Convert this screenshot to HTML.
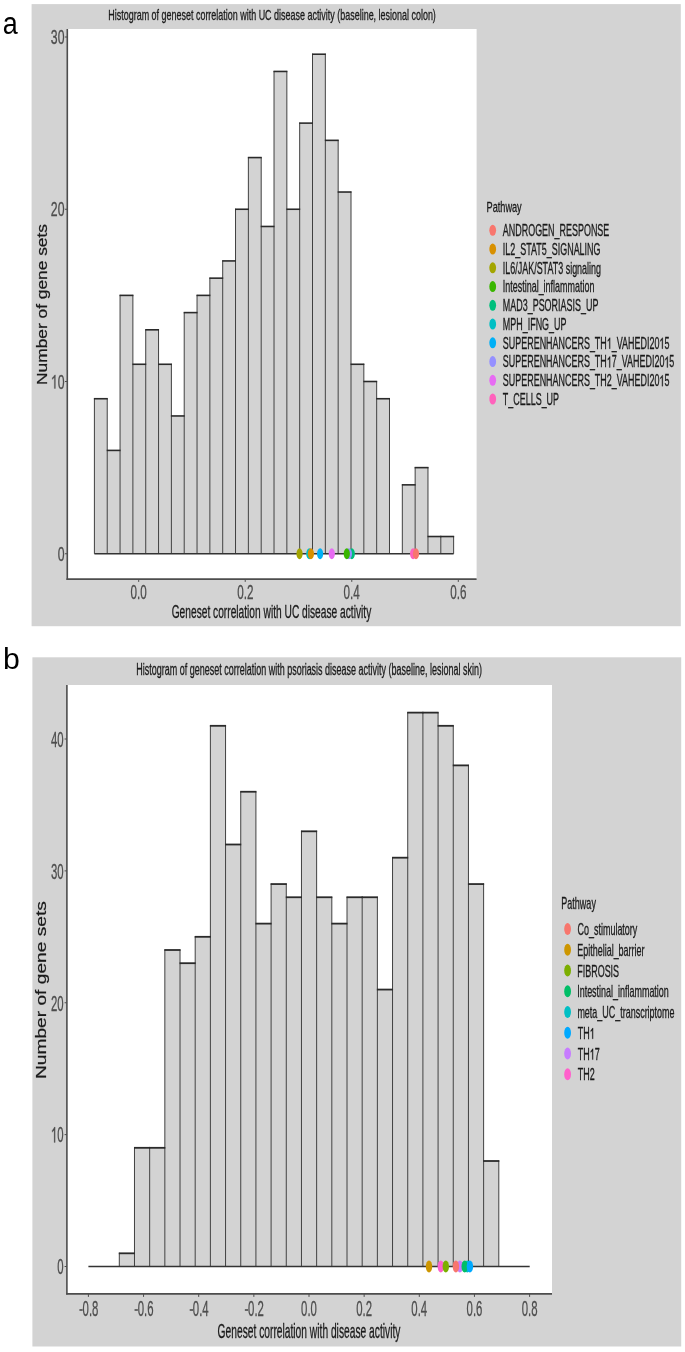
<!DOCTYPE html>
<html><head><meta charset="utf-8"><style>
html,body{margin:0;padding:0;background:#fff;}
body{width:685px;height:1352px;overflow:hidden;}
svg{display:block;will-change:transform;}
text{font-family:"Liberation Sans", sans-serif;stroke:currentColor;stroke-width:0.25px;vector-effect:non-scaling-stroke;}
</style></head><body>
<svg width="685" height="1352" viewBox="0 0 685 1352">
<rect x="31.60" y="4.10" width="649.20" height="622.10" fill="#d3d3d3"/>
<rect x="67.50" y="29.00" width="409.10" height="550.00" fill="#ffffff"/>
<text transform="translate(2.85,33.60) scale(0.8700,1)" font-size="31.00" fill="#000" color="#000" style="stroke:none">a</text>
<text transform="translate(108.31,19.50) scale(0.5896,1)" font-size="15.20" fill="#1a1a1a" color="#1a1a1a">Histogram of geneset correlation with UC disease activity (baseline, lesional colon)</text>
<rect x="94.40" y="398.73" width="12.83" height="155.03" fill="#d3d3d3"/>
<rect x="107.23" y="450.40" width="12.83" height="103.35" fill="#d3d3d3"/>
<rect x="120.06" y="295.38" width="12.83" height="258.38" fill="#d3d3d3"/>
<rect x="132.89" y="364.27" width="12.83" height="189.48" fill="#d3d3d3"/>
<rect x="145.72" y="329.82" width="12.83" height="223.93" fill="#d3d3d3"/>
<rect x="158.55" y="364.27" width="12.83" height="189.48" fill="#d3d3d3"/>
<rect x="171.38" y="415.95" width="12.83" height="137.80" fill="#d3d3d3"/>
<rect x="184.21" y="312.60" width="12.83" height="241.15" fill="#d3d3d3"/>
<rect x="197.04" y="295.38" width="12.83" height="258.38" fill="#d3d3d3"/>
<rect x="209.87" y="278.15" width="12.83" height="275.60" fill="#d3d3d3"/>
<rect x="222.70" y="260.92" width="12.83" height="292.83" fill="#d3d3d3"/>
<rect x="235.53" y="209.25" width="12.83" height="344.50" fill="#d3d3d3"/>
<rect x="248.36" y="157.57" width="12.83" height="396.18" fill="#d3d3d3"/>
<rect x="261.19" y="226.47" width="12.83" height="327.28" fill="#d3d3d3"/>
<rect x="274.02" y="71.45" width="12.83" height="482.30" fill="#d3d3d3"/>
<rect x="286.85" y="209.25" width="12.83" height="344.50" fill="#d3d3d3"/>
<rect x="299.68" y="123.12" width="12.83" height="430.63" fill="#d3d3d3"/>
<rect x="312.51" y="54.22" width="12.83" height="499.53" fill="#d3d3d3"/>
<rect x="325.34" y="140.35" width="12.83" height="413.40" fill="#d3d3d3"/>
<rect x="338.17" y="192.02" width="12.83" height="361.73" fill="#d3d3d3"/>
<rect x="351.00" y="364.27" width="12.83" height="189.48" fill="#d3d3d3"/>
<rect x="363.83" y="381.50" width="12.83" height="172.25" fill="#d3d3d3"/>
<rect x="376.66" y="398.73" width="12.83" height="155.03" fill="#d3d3d3"/>
<rect x="402.32" y="484.85" width="12.83" height="68.90" fill="#d3d3d3"/>
<rect x="415.15" y="467.62" width="12.83" height="86.12" fill="#d3d3d3"/>
<rect x="427.98" y="536.52" width="12.83" height="17.23" fill="#d3d3d3"/>
<rect x="440.81" y="536.52" width="12.83" height="17.23" fill="#d3d3d3"/>
<line x1="94.40" y1="553.75" x2="94.40" y2="398.23" stroke="#404040" stroke-width="1.0" stroke-linecap="butt"/>
<line x1="107.23" y1="553.75" x2="107.23" y2="398.23" stroke="#404040" stroke-width="1.0" stroke-linecap="butt"/>
<line x1="120.06" y1="553.75" x2="120.06" y2="294.88" stroke="#404040" stroke-width="1.0" stroke-linecap="butt"/>
<line x1="132.89" y1="553.75" x2="132.89" y2="294.88" stroke="#404040" stroke-width="1.0" stroke-linecap="butt"/>
<line x1="145.72" y1="553.75" x2="145.72" y2="329.32" stroke="#404040" stroke-width="1.0" stroke-linecap="butt"/>
<line x1="158.55" y1="553.75" x2="158.55" y2="329.32" stroke="#404040" stroke-width="1.0" stroke-linecap="butt"/>
<line x1="171.38" y1="553.75" x2="171.38" y2="363.77" stroke="#404040" stroke-width="1.0" stroke-linecap="butt"/>
<line x1="184.21" y1="553.75" x2="184.21" y2="312.10" stroke="#404040" stroke-width="1.0" stroke-linecap="butt"/>
<line x1="197.04" y1="553.75" x2="197.04" y2="294.88" stroke="#404040" stroke-width="1.0" stroke-linecap="butt"/>
<line x1="209.87" y1="553.75" x2="209.87" y2="277.65" stroke="#404040" stroke-width="1.0" stroke-linecap="butt"/>
<line x1="222.70" y1="553.75" x2="222.70" y2="260.42" stroke="#404040" stroke-width="1.0" stroke-linecap="butt"/>
<line x1="235.53" y1="553.75" x2="235.53" y2="208.75" stroke="#404040" stroke-width="1.0" stroke-linecap="butt"/>
<line x1="248.36" y1="553.75" x2="248.36" y2="157.07" stroke="#404040" stroke-width="1.0" stroke-linecap="butt"/>
<line x1="261.19" y1="553.75" x2="261.19" y2="157.07" stroke="#404040" stroke-width="1.0" stroke-linecap="butt"/>
<line x1="274.02" y1="553.75" x2="274.02" y2="70.95" stroke="#404040" stroke-width="1.0" stroke-linecap="butt"/>
<line x1="286.85" y1="553.75" x2="286.85" y2="70.95" stroke="#404040" stroke-width="1.0" stroke-linecap="butt"/>
<line x1="299.68" y1="553.75" x2="299.68" y2="122.62" stroke="#404040" stroke-width="1.0" stroke-linecap="butt"/>
<line x1="312.51" y1="553.75" x2="312.51" y2="53.72" stroke="#404040" stroke-width="1.0" stroke-linecap="butt"/>
<line x1="325.34" y1="553.75" x2="325.34" y2="53.72" stroke="#404040" stroke-width="1.0" stroke-linecap="butt"/>
<line x1="338.17" y1="553.75" x2="338.17" y2="139.85" stroke="#404040" stroke-width="1.0" stroke-linecap="butt"/>
<line x1="351.00" y1="553.75" x2="351.00" y2="191.52" stroke="#404040" stroke-width="1.0" stroke-linecap="butt"/>
<line x1="363.83" y1="553.75" x2="363.83" y2="363.77" stroke="#404040" stroke-width="1.0" stroke-linecap="butt"/>
<line x1="376.66" y1="553.75" x2="376.66" y2="381.00" stroke="#404040" stroke-width="1.0" stroke-linecap="butt"/>
<line x1="389.49" y1="553.75" x2="389.49" y2="398.23" stroke="#404040" stroke-width="1.0" stroke-linecap="butt"/>
<line x1="402.32" y1="553.75" x2="402.32" y2="484.35" stroke="#404040" stroke-width="1.0" stroke-linecap="butt"/>
<line x1="415.15" y1="553.75" x2="415.15" y2="467.12" stroke="#404040" stroke-width="1.0" stroke-linecap="butt"/>
<line x1="427.98" y1="553.75" x2="427.98" y2="467.12" stroke="#404040" stroke-width="1.0" stroke-linecap="butt"/>
<line x1="440.81" y1="553.75" x2="440.81" y2="536.02" stroke="#404040" stroke-width="1.0" stroke-linecap="butt"/>
<line x1="453.64" y1="553.75" x2="453.64" y2="536.02" stroke="#404040" stroke-width="1.0" stroke-linecap="butt"/>
<line x1="93.90" y1="398.73" x2="107.73" y2="398.73" stroke="#2a2a2a" stroke-width="1.6" stroke-linecap="butt"/>
<line x1="106.73" y1="450.40" x2="120.56" y2="450.40" stroke="#2a2a2a" stroke-width="1.6" stroke-linecap="butt"/>
<line x1="119.56" y1="295.38" x2="133.39" y2="295.38" stroke="#2a2a2a" stroke-width="1.6" stroke-linecap="butt"/>
<line x1="132.39" y1="364.27" x2="146.22" y2="364.27" stroke="#2a2a2a" stroke-width="1.6" stroke-linecap="butt"/>
<line x1="145.22" y1="329.82" x2="159.05" y2="329.82" stroke="#2a2a2a" stroke-width="1.6" stroke-linecap="butt"/>
<line x1="158.05" y1="364.27" x2="171.88" y2="364.27" stroke="#2a2a2a" stroke-width="1.6" stroke-linecap="butt"/>
<line x1="170.88" y1="415.95" x2="184.71" y2="415.95" stroke="#2a2a2a" stroke-width="1.6" stroke-linecap="butt"/>
<line x1="183.71" y1="312.60" x2="197.54" y2="312.60" stroke="#2a2a2a" stroke-width="1.6" stroke-linecap="butt"/>
<line x1="196.54" y1="295.38" x2="210.37" y2="295.38" stroke="#2a2a2a" stroke-width="1.6" stroke-linecap="butt"/>
<line x1="209.37" y1="278.15" x2="223.20" y2="278.15" stroke="#2a2a2a" stroke-width="1.6" stroke-linecap="butt"/>
<line x1="222.20" y1="260.92" x2="236.03" y2="260.92" stroke="#2a2a2a" stroke-width="1.6" stroke-linecap="butt"/>
<line x1="235.03" y1="209.25" x2="248.86" y2="209.25" stroke="#2a2a2a" stroke-width="1.6" stroke-linecap="butt"/>
<line x1="247.86" y1="157.57" x2="261.69" y2="157.57" stroke="#2a2a2a" stroke-width="1.6" stroke-linecap="butt"/>
<line x1="260.69" y1="226.47" x2="274.52" y2="226.47" stroke="#2a2a2a" stroke-width="1.6" stroke-linecap="butt"/>
<line x1="273.52" y1="71.45" x2="287.35" y2="71.45" stroke="#2a2a2a" stroke-width="1.6" stroke-linecap="butt"/>
<line x1="286.35" y1="209.25" x2="300.18" y2="209.25" stroke="#2a2a2a" stroke-width="1.6" stroke-linecap="butt"/>
<line x1="299.18" y1="123.12" x2="313.01" y2="123.12" stroke="#2a2a2a" stroke-width="1.6" stroke-linecap="butt"/>
<line x1="312.01" y1="54.22" x2="325.84" y2="54.22" stroke="#2a2a2a" stroke-width="1.6" stroke-linecap="butt"/>
<line x1="324.84" y1="140.35" x2="338.67" y2="140.35" stroke="#2a2a2a" stroke-width="1.6" stroke-linecap="butt"/>
<line x1="337.67" y1="192.02" x2="351.50" y2="192.02" stroke="#2a2a2a" stroke-width="1.6" stroke-linecap="butt"/>
<line x1="350.50" y1="364.27" x2="364.33" y2="364.27" stroke="#2a2a2a" stroke-width="1.6" stroke-linecap="butt"/>
<line x1="363.33" y1="381.50" x2="377.16" y2="381.50" stroke="#2a2a2a" stroke-width="1.6" stroke-linecap="butt"/>
<line x1="376.16" y1="398.73" x2="389.99" y2="398.73" stroke="#2a2a2a" stroke-width="1.6" stroke-linecap="butt"/>
<line x1="401.82" y1="484.85" x2="415.65" y2="484.85" stroke="#2a2a2a" stroke-width="1.6" stroke-linecap="butt"/>
<line x1="414.65" y1="467.62" x2="428.48" y2="467.62" stroke="#2a2a2a" stroke-width="1.6" stroke-linecap="butt"/>
<line x1="427.48" y1="536.52" x2="441.31" y2="536.52" stroke="#2a2a2a" stroke-width="1.6" stroke-linecap="butt"/>
<line x1="440.31" y1="536.52" x2="454.14" y2="536.52" stroke="#2a2a2a" stroke-width="1.6" stroke-linecap="butt"/>
<line x1="94.40" y1="553.75" x2="453.64" y2="553.75" stroke="#333333" stroke-width="1.6" stroke-linecap="butt"/>
<ellipse cx="351.80" cy="553.75" rx="3.1" ry="5.4" fill="#00BF7D"/>
<ellipse cx="348.90" cy="553.75" rx="3.1" ry="5.4" fill="#9590FF"/>
<ellipse cx="346.80" cy="553.75" rx="3.1" ry="5.4" fill="#39B600"/>
<ellipse cx="299.55" cy="553.75" rx="3.1" ry="5.4" fill="#A3A500"/>
<ellipse cx="309.30" cy="553.75" rx="3.1" ry="5.4" fill="#00BFC4"/>
<ellipse cx="310.90" cy="553.75" rx="3.1" ry="5.4" fill="#D89000"/>
<ellipse cx="320.10" cy="553.75" rx="3.1" ry="5.4" fill="#00B0F6"/>
<ellipse cx="331.80" cy="553.75" rx="3.1" ry="5.4" fill="#E76BF3"/>
<ellipse cx="413.10" cy="553.75" rx="3.1" ry="5.4" fill="#FF62BC"/>
<ellipse cx="416.00" cy="553.75" rx="3.1" ry="5.4" fill="#F8766D"/>
<line x1="67.30" y1="29.00" x2="67.30" y2="579.90" stroke="#4d4d4d" stroke-width="1.6" stroke-linecap="butt"/>
<line x1="66.50" y1="579.10" x2="476.60" y2="579.10" stroke="#4d4d4d" stroke-width="1.6" stroke-linecap="butt"/>
<line x1="65.00" y1="553.75" x2="67.30" y2="553.75" stroke="#4d4d4d" stroke-width="1.0" stroke-linecap="butt"/>
<text transform="translate(57.65,560.75) scale(0.6200,1)" font-size="19.80" fill="#4d4d4d" color="#4d4d4d">0</text>
<line x1="65.00" y1="381.50" x2="67.30" y2="381.50" stroke="#4d4d4d" stroke-width="1.0" stroke-linecap="butt"/>
<text id="t0" transform="translate(50.83,388.50) scale(0.6200,1)" font-size="19.80" fill="#4d4d4d" color="#4d4d4d"> 0</text>
<path transform="translate(50.83,388.50) scale(0.6200,1) translate(0.000,0.000) scale(0.009668,-0.009668)" d="M763 0L583 0L583 1147C540 1106 483 1065 413 1024C343 983 280 952 224 931L224 1105C325 1152 413 1210 488 1276C563 1342 616 1380 647 1409L763 1409Z" fill="#4d4d4d" stroke="#4d4d4d" stroke-width="0.25" vector-effect="non-scaling-stroke"/>
<line x1="65.00" y1="209.25" x2="67.30" y2="209.25" stroke="#4d4d4d" stroke-width="1.0" stroke-linecap="butt"/>
<text transform="translate(50.83,216.25) scale(0.6200,1)" font-size="19.80" fill="#4d4d4d" color="#4d4d4d">20</text>
<line x1="65.00" y1="37.00" x2="67.30" y2="37.00" stroke="#4d4d4d" stroke-width="1.0" stroke-linecap="butt"/>
<text transform="translate(50.83,44.00) scale(0.6200,1)" font-size="19.80" fill="#4d4d4d" color="#4d4d4d">30</text>
<line x1="138.70" y1="579.10" x2="138.70" y2="581.90" stroke="#4d4d4d" stroke-width="1.0" stroke-linecap="butt"/>
<text transform="translate(130.57,598.90) scale(0.5900,1)" font-size="19.80" fill="#4d4d4d" color="#4d4d4d">0.0</text>
<line x1="245.23" y1="579.10" x2="245.23" y2="581.90" stroke="#4d4d4d" stroke-width="1.0" stroke-linecap="butt"/>
<text transform="translate(237.17,598.90) scale(0.5900,1)" font-size="19.80" fill="#4d4d4d" color="#4d4d4d">0.2</text>
<line x1="351.77" y1="579.10" x2="351.77" y2="581.90" stroke="#4d4d4d" stroke-width="1.0" stroke-linecap="butt"/>
<text transform="translate(343.57,598.90) scale(0.5900,1)" font-size="19.80" fill="#4d4d4d" color="#4d4d4d">0.4</text>
<line x1="458.30" y1="579.10" x2="458.30" y2="581.90" stroke="#4d4d4d" stroke-width="1.0" stroke-linecap="butt"/>
<text transform="translate(450.20,598.90) scale(0.5900,1)" font-size="19.80" fill="#4d4d4d" color="#4d4d4d">0.6</text>
<text transform="translate(171.69,617.70) scale(0.5669,1)" font-size="18.00" fill="#1a1a1a" color="#1a1a1a">Geneset correlation with UC disease activity</text>
<text transform="translate(46.90,384.93) rotate(-90) scale(1.1722,1)" font-size="14.80" fill="#1a1a1a" color="#1a1a1a">Number of gene sets</text>
<text transform="translate(486.54,211.90) scale(0.6370,1)" font-size="14.40" fill="#1a1a1a" color="#1a1a1a">Pathway</text>
<ellipse cx="492.70" cy="230.35" rx="3.4" ry="5.5" fill="#F8766D"/>
<text transform="translate(502.8,236.25) scale(0.5640,1)" font-size="15.90" fill="#1a1a1a" color="#1a1a1a">ANDROGEN_RESPONSE</text>
<ellipse cx="492.70" cy="249.09" rx="3.4" ry="5.5" fill="#D89000"/>
<text transform="translate(502.8,254.99) scale(0.5640,1)" font-size="15.90" fill="#1a1a1a" color="#1a1a1a">IL2_STAT5_SIGNALING</text>
<ellipse cx="492.70" cy="267.83" rx="3.4" ry="5.5" fill="#A3A500"/>
<text transform="translate(502.8,273.73) scale(0.5640,1)" font-size="15.90" fill="#1a1a1a" color="#1a1a1a">IL6/JAK/STAT3 signaling</text>
<ellipse cx="492.70" cy="286.57" rx="3.4" ry="5.5" fill="#39B600"/>
<text transform="translate(502.8,292.47) scale(0.5640,1)" font-size="15.90" fill="#1a1a1a" color="#1a1a1a">Intestinal_inflammation</text>
<ellipse cx="492.70" cy="305.31" rx="3.4" ry="5.5" fill="#00BF7D"/>
<text transform="translate(502.8,311.21) scale(0.5640,1)" font-size="15.90" fill="#1a1a1a" color="#1a1a1a">MAD3_PSORIASIS_UP</text>
<ellipse cx="492.70" cy="324.05" rx="3.4" ry="5.5" fill="#00BFC4"/>
<text transform="translate(502.8,329.95) scale(0.5640,1)" font-size="15.90" fill="#1a1a1a" color="#1a1a1a">MPH_IFNG_UP</text>
<ellipse cx="492.70" cy="342.79" rx="3.4" ry="5.5" fill="#00B0F6"/>
<text id="t1" transform="translate(502.8,348.69) scale(0.5640,1)" font-size="15.90" fill="#1a1a1a" color="#1a1a1a">SUPERENHANCERS_TH _VAHEDI20 5</text>
<path transform="translate(502.8,348.69) scale(0.5640,1) translate(184.386,0.000) scale(0.007764,-0.007764)" d="M763 0L583 0L583 1147C540 1106 483 1065 413 1024C343 983 280 952 224 931L224 1105C325 1152 413 1210 488 1276C563 1342 616 1380 647 1409L763 1409Z" fill="#1a1a1a" stroke="#1a1a1a" stroke-width="0.25" vector-effect="non-scaling-stroke"/>
<path transform="translate(502.8,348.69) scale(0.5640,1) translate(277.656,0.000) scale(0.007764,-0.007764)" d="M763 0L583 0L583 1147C540 1106 483 1065 413 1024C343 983 280 952 224 931L224 1105C325 1152 413 1210 488 1276C563 1342 616 1380 647 1409L763 1409Z" fill="#1a1a1a" stroke="#1a1a1a" stroke-width="0.25" vector-effect="non-scaling-stroke"/>
<ellipse cx="492.70" cy="361.53" rx="3.4" ry="5.5" fill="#9590FF"/>
<text id="t2" transform="translate(502.8,367.43) scale(0.5640,1)" font-size="15.90" fill="#1a1a1a" color="#1a1a1a">SUPERENHANCERS_TH 7_VAHEDI20 5</text>
<path transform="translate(502.8,367.43) scale(0.5640,1) translate(184.386,0.000) scale(0.007764,-0.007764)" d="M763 0L583 0L583 1147C540 1106 483 1065 413 1024C343 983 280 952 224 931L224 1105C325 1152 413 1210 488 1276C563 1342 616 1380 647 1409L763 1409Z" fill="#1a1a1a" stroke="#1a1a1a" stroke-width="0.25" vector-effect="non-scaling-stroke"/>
<path transform="translate(502.8,367.43) scale(0.5640,1) translate(286.491,0.000) scale(0.007764,-0.007764)" d="M763 0L583 0L583 1147C540 1106 483 1065 413 1024C343 983 280 952 224 931L224 1105C325 1152 413 1210 488 1276C563 1342 616 1380 647 1409L763 1409Z" fill="#1a1a1a" stroke="#1a1a1a" stroke-width="0.25" vector-effect="non-scaling-stroke"/>
<ellipse cx="492.70" cy="380.27" rx="3.4" ry="5.5" fill="#E76BF3"/>
<text id="t3" transform="translate(502.8,386.17) scale(0.5640,1)" font-size="15.90" fill="#1a1a1a" color="#1a1a1a">SUPERENHANCERS_TH2_VAHEDI20 5</text>
<path transform="translate(502.8,386.17) scale(0.5640,1) translate(277.656,0.000) scale(0.007764,-0.007764)" d="M763 0L583 0L583 1147C540 1106 483 1065 413 1024C343 983 280 952 224 931L224 1105C325 1152 413 1210 488 1276C563 1342 616 1380 647 1409L763 1409Z" fill="#1a1a1a" stroke="#1a1a1a" stroke-width="0.25" vector-effect="non-scaling-stroke"/>
<ellipse cx="492.70" cy="399.01" rx="3.4" ry="5.5" fill="#FF62BC"/>
<text transform="translate(502.8,404.91) scale(0.5640,1)" font-size="15.90" fill="#1a1a1a" color="#1a1a1a">T_CELLS_UP</text>
<rect x="32.40" y="657.30" width="648.80" height="689.20" fill="#d3d3d3"/>
<rect x="67.00" y="685.00" width="485.00" height="609.00" fill="#ffffff"/>
<text transform="translate(2.96,669.30) scale(1.0300,1)" font-size="29.40" fill="#000" color="#000" style="stroke:none">b</text>
<text transform="translate(136.36,674.60) scale(0.5765,1)" font-size="15.60" fill="#1a1a1a" color="#1a1a1a">Histogram of geneset correlation with psoriasis disease activity (baseline, lesional skin)</text>
<rect x="119.30" y="1253.31" width="15.18" height="13.19" fill="#d3d3d3"/>
<rect x="134.48" y="1147.81" width="15.18" height="118.69" fill="#d3d3d3"/>
<rect x="149.66" y="1147.81" width="15.18" height="118.69" fill="#d3d3d3"/>
<rect x="164.84" y="950.00" width="15.18" height="316.50" fill="#d3d3d3"/>
<rect x="180.02" y="963.19" width="15.18" height="303.31" fill="#d3d3d3"/>
<rect x="195.20" y="936.81" width="15.18" height="329.69" fill="#d3d3d3"/>
<rect x="210.38" y="725.81" width="15.18" height="540.69" fill="#d3d3d3"/>
<rect x="225.56" y="844.50" width="15.18" height="422.00" fill="#d3d3d3"/>
<rect x="240.74" y="791.75" width="15.18" height="474.75" fill="#d3d3d3"/>
<rect x="255.92" y="923.62" width="15.18" height="342.88" fill="#d3d3d3"/>
<rect x="271.10" y="884.06" width="15.18" height="382.44" fill="#d3d3d3"/>
<rect x="286.28" y="897.25" width="15.18" height="369.25" fill="#d3d3d3"/>
<rect x="301.46" y="831.31" width="15.18" height="435.19" fill="#d3d3d3"/>
<rect x="316.64" y="897.25" width="15.18" height="369.25" fill="#d3d3d3"/>
<rect x="331.82" y="923.62" width="15.18" height="342.88" fill="#d3d3d3"/>
<rect x="347.00" y="897.25" width="15.18" height="369.25" fill="#d3d3d3"/>
<rect x="362.18" y="897.25" width="15.18" height="369.25" fill="#d3d3d3"/>
<rect x="377.36" y="989.56" width="15.18" height="276.94" fill="#d3d3d3"/>
<rect x="392.54" y="857.69" width="15.18" height="408.81" fill="#d3d3d3"/>
<rect x="407.72" y="712.62" width="15.18" height="553.88" fill="#d3d3d3"/>
<rect x="422.90" y="712.62" width="15.18" height="553.88" fill="#d3d3d3"/>
<rect x="438.08" y="725.81" width="15.18" height="540.69" fill="#d3d3d3"/>
<rect x="453.26" y="765.38" width="15.18" height="501.12" fill="#d3d3d3"/>
<rect x="468.44" y="884.06" width="15.18" height="382.44" fill="#d3d3d3"/>
<rect x="483.62" y="1161.00" width="15.18" height="105.50" fill="#d3d3d3"/>
<line x1="119.30" y1="1266.50" x2="119.30" y2="1252.81" stroke="#404040" stroke-width="1.0" stroke-linecap="butt"/>
<line x1="134.48" y1="1266.50" x2="134.48" y2="1147.31" stroke="#404040" stroke-width="1.0" stroke-linecap="butt"/>
<line x1="149.66" y1="1266.50" x2="149.66" y2="1147.31" stroke="#404040" stroke-width="1.0" stroke-linecap="butt"/>
<line x1="164.84" y1="1266.50" x2="164.84" y2="949.50" stroke="#404040" stroke-width="1.0" stroke-linecap="butt"/>
<line x1="180.02" y1="1266.50" x2="180.02" y2="949.50" stroke="#404040" stroke-width="1.0" stroke-linecap="butt"/>
<line x1="195.20" y1="1266.50" x2="195.20" y2="936.31" stroke="#404040" stroke-width="1.0" stroke-linecap="butt"/>
<line x1="210.38" y1="1266.50" x2="210.38" y2="725.31" stroke="#404040" stroke-width="1.0" stroke-linecap="butt"/>
<line x1="225.56" y1="1266.50" x2="225.56" y2="725.31" stroke="#404040" stroke-width="1.0" stroke-linecap="butt"/>
<line x1="240.74" y1="1266.50" x2="240.74" y2="791.25" stroke="#404040" stroke-width="1.0" stroke-linecap="butt"/>
<line x1="255.92" y1="1266.50" x2="255.92" y2="791.25" stroke="#404040" stroke-width="1.0" stroke-linecap="butt"/>
<line x1="271.10" y1="1266.50" x2="271.10" y2="883.56" stroke="#404040" stroke-width="1.0" stroke-linecap="butt"/>
<line x1="286.28" y1="1266.50" x2="286.28" y2="883.56" stroke="#404040" stroke-width="1.0" stroke-linecap="butt"/>
<line x1="301.46" y1="1266.50" x2="301.46" y2="830.81" stroke="#404040" stroke-width="1.0" stroke-linecap="butt"/>
<line x1="316.64" y1="1266.50" x2="316.64" y2="830.81" stroke="#404040" stroke-width="1.0" stroke-linecap="butt"/>
<line x1="331.82" y1="1266.50" x2="331.82" y2="896.75" stroke="#404040" stroke-width="1.0" stroke-linecap="butt"/>
<line x1="347.00" y1="1266.50" x2="347.00" y2="896.75" stroke="#404040" stroke-width="1.0" stroke-linecap="butt"/>
<line x1="362.18" y1="1266.50" x2="362.18" y2="896.75" stroke="#404040" stroke-width="1.0" stroke-linecap="butt"/>
<line x1="377.36" y1="1266.50" x2="377.36" y2="896.75" stroke="#404040" stroke-width="1.0" stroke-linecap="butt"/>
<line x1="392.54" y1="1266.50" x2="392.54" y2="857.19" stroke="#404040" stroke-width="1.0" stroke-linecap="butt"/>
<line x1="407.72" y1="1266.50" x2="407.72" y2="712.12" stroke="#404040" stroke-width="1.0" stroke-linecap="butt"/>
<line x1="422.90" y1="1266.50" x2="422.90" y2="712.12" stroke="#404040" stroke-width="1.0" stroke-linecap="butt"/>
<line x1="438.08" y1="1266.50" x2="438.08" y2="712.12" stroke="#404040" stroke-width="1.0" stroke-linecap="butt"/>
<line x1="453.26" y1="1266.50" x2="453.26" y2="725.31" stroke="#404040" stroke-width="1.0" stroke-linecap="butt"/>
<line x1="468.44" y1="1266.50" x2="468.44" y2="764.88" stroke="#404040" stroke-width="1.0" stroke-linecap="butt"/>
<line x1="483.62" y1="1266.50" x2="483.62" y2="883.56" stroke="#404040" stroke-width="1.0" stroke-linecap="butt"/>
<line x1="498.80" y1="1266.50" x2="498.80" y2="1160.50" stroke="#404040" stroke-width="1.0" stroke-linecap="butt"/>
<line x1="118.80" y1="1253.31" x2="134.98" y2="1253.31" stroke="#2a2a2a" stroke-width="1.8" stroke-linecap="butt"/>
<line x1="133.98" y1="1147.81" x2="150.16" y2="1147.81" stroke="#2a2a2a" stroke-width="1.8" stroke-linecap="butt"/>
<line x1="149.16" y1="1147.81" x2="165.34" y2="1147.81" stroke="#2a2a2a" stroke-width="1.8" stroke-linecap="butt"/>
<line x1="164.34" y1="950.00" x2="180.52" y2="950.00" stroke="#2a2a2a" stroke-width="1.8" stroke-linecap="butt"/>
<line x1="179.52" y1="963.19" x2="195.70" y2="963.19" stroke="#2a2a2a" stroke-width="1.8" stroke-linecap="butt"/>
<line x1="194.70" y1="936.81" x2="210.88" y2="936.81" stroke="#2a2a2a" stroke-width="1.8" stroke-linecap="butt"/>
<line x1="209.88" y1="725.81" x2="226.06" y2="725.81" stroke="#2a2a2a" stroke-width="1.8" stroke-linecap="butt"/>
<line x1="225.06" y1="844.50" x2="241.24" y2="844.50" stroke="#2a2a2a" stroke-width="1.8" stroke-linecap="butt"/>
<line x1="240.24" y1="791.75" x2="256.42" y2="791.75" stroke="#2a2a2a" stroke-width="1.8" stroke-linecap="butt"/>
<line x1="255.42" y1="923.62" x2="271.60" y2="923.62" stroke="#2a2a2a" stroke-width="1.8" stroke-linecap="butt"/>
<line x1="270.60" y1="884.06" x2="286.78" y2="884.06" stroke="#2a2a2a" stroke-width="1.8" stroke-linecap="butt"/>
<line x1="285.78" y1="897.25" x2="301.96" y2="897.25" stroke="#2a2a2a" stroke-width="1.8" stroke-linecap="butt"/>
<line x1="300.96" y1="831.31" x2="317.14" y2="831.31" stroke="#2a2a2a" stroke-width="1.8" stroke-linecap="butt"/>
<line x1="316.14" y1="897.25" x2="332.32" y2="897.25" stroke="#2a2a2a" stroke-width="1.8" stroke-linecap="butt"/>
<line x1="331.32" y1="923.62" x2="347.50" y2="923.62" stroke="#2a2a2a" stroke-width="1.8" stroke-linecap="butt"/>
<line x1="346.50" y1="897.25" x2="362.68" y2="897.25" stroke="#2a2a2a" stroke-width="1.8" stroke-linecap="butt"/>
<line x1="361.68" y1="897.25" x2="377.86" y2="897.25" stroke="#2a2a2a" stroke-width="1.8" stroke-linecap="butt"/>
<line x1="376.86" y1="989.56" x2="393.04" y2="989.56" stroke="#2a2a2a" stroke-width="1.8" stroke-linecap="butt"/>
<line x1="392.04" y1="857.69" x2="408.22" y2="857.69" stroke="#2a2a2a" stroke-width="1.8" stroke-linecap="butt"/>
<line x1="407.22" y1="712.62" x2="423.40" y2="712.62" stroke="#2a2a2a" stroke-width="1.8" stroke-linecap="butt"/>
<line x1="422.40" y1="712.62" x2="438.58" y2="712.62" stroke="#2a2a2a" stroke-width="1.8" stroke-linecap="butt"/>
<line x1="437.58" y1="725.81" x2="453.76" y2="725.81" stroke="#2a2a2a" stroke-width="1.8" stroke-linecap="butt"/>
<line x1="452.76" y1="765.38" x2="468.94" y2="765.38" stroke="#2a2a2a" stroke-width="1.8" stroke-linecap="butt"/>
<line x1="467.94" y1="884.06" x2="484.12" y2="884.06" stroke="#2a2a2a" stroke-width="1.8" stroke-linecap="butt"/>
<line x1="483.12" y1="1161.00" x2="499.30" y2="1161.00" stroke="#2a2a2a" stroke-width="1.8" stroke-linecap="butt"/>
<line x1="88.40" y1="1266.50" x2="529.70" y2="1266.50" stroke="#333333" stroke-width="1.6" stroke-linecap="butt"/>
<ellipse cx="429.00" cy="1266.50" rx="3.2" ry="6.1" fill="#CD9600"/>
<ellipse cx="440.80" cy="1266.50" rx="3.2" ry="6.1" fill="#FF61CC"/>
<ellipse cx="445.80" cy="1266.50" rx="3.2" ry="6.1" fill="#7CAE00"/>
<ellipse cx="459.90" cy="1266.50" rx="3.2" ry="6.1" fill="#C77CFF"/>
<ellipse cx="455.90" cy="1266.50" rx="3.2" ry="6.1" fill="#F8766D"/>
<ellipse cx="467.30" cy="1266.50" rx="3.2" ry="6.1" fill="#00BFC4"/>
<ellipse cx="464.70" cy="1266.50" rx="3.2" ry="6.1" fill="#00BE67"/>
<ellipse cx="469.90" cy="1266.50" rx="3.2" ry="6.1" fill="#00A9FF"/>
<line x1="66.90" y1="685.00" x2="66.90" y2="1294.60" stroke="#4d4d4d" stroke-width="1.6" stroke-linecap="butt"/>
<line x1="66.10" y1="1293.90" x2="552.00" y2="1293.90" stroke="#4d4d4d" stroke-width="1.6" stroke-linecap="butt"/>
<line x1="64.60" y1="1266.50" x2="66.90" y2="1266.50" stroke="#4d4d4d" stroke-width="1.0" stroke-linecap="butt"/>
<text transform="translate(57.21,1274.30) scale(0.5100,1)" font-size="22.30" fill="#4d4d4d" color="#4d4d4d">0</text>
<line x1="64.60" y1="1134.62" x2="66.90" y2="1134.62" stroke="#4d4d4d" stroke-width="1.0" stroke-linecap="butt"/>
<text id="t4" transform="translate(50.90,1142.42) scale(0.5100,1)" font-size="22.30" fill="#4d4d4d" color="#4d4d4d"> 0</text>
<path transform="translate(50.90,1142.42) scale(0.5100,1) translate(0.000,0.000) scale(0.010889,-0.010889)" d="M763 0L583 0L583 1147C540 1106 483 1065 413 1024C343 983 280 952 224 931L224 1105C325 1152 413 1210 488 1276C563 1342 616 1380 647 1409L763 1409Z" fill="#4d4d4d" stroke="#4d4d4d" stroke-width="0.25" vector-effect="non-scaling-stroke"/>
<line x1="64.60" y1="1002.75" x2="66.90" y2="1002.75" stroke="#4d4d4d" stroke-width="1.0" stroke-linecap="butt"/>
<text transform="translate(50.90,1010.55) scale(0.5100,1)" font-size="22.30" fill="#4d4d4d" color="#4d4d4d">20</text>
<line x1="64.60" y1="870.88" x2="66.90" y2="870.88" stroke="#4d4d4d" stroke-width="1.0" stroke-linecap="butt"/>
<text transform="translate(50.90,878.67) scale(0.5100,1)" font-size="22.30" fill="#4d4d4d" color="#4d4d4d">30</text>
<line x1="64.60" y1="739.00" x2="66.90" y2="739.00" stroke="#4d4d4d" stroke-width="1.0" stroke-linecap="butt"/>
<text transform="translate(50.90,746.80) scale(0.5100,1)" font-size="22.30" fill="#4d4d4d" color="#4d4d4d">40</text>
<line x1="88.40" y1="1293.90" x2="88.40" y2="1296.90" stroke="#4d4d4d" stroke-width="1.0" stroke-linecap="butt"/>
<text transform="translate(82.61,1315.70) scale(0.5100,1)" font-size="22.30" fill="#4d4d4d" color="#4d4d4d">0.8</text>
<rect x="79.40" y="1309.20" width="3.30" height="1.60" fill="#4d4d4d"/>
<line x1="143.55" y1="1293.90" x2="143.55" y2="1296.90" stroke="#4d4d4d" stroke-width="1.0" stroke-linecap="butt"/>
<text transform="translate(137.76,1315.70) scale(0.5100,1)" font-size="22.30" fill="#4d4d4d" color="#4d4d4d">0.6</text>
<rect x="134.55" y="1309.20" width="3.30" height="1.60" fill="#4d4d4d"/>
<line x1="198.70" y1="1293.90" x2="198.70" y2="1296.90" stroke="#4d4d4d" stroke-width="1.0" stroke-linecap="butt"/>
<text transform="translate(192.82,1315.70) scale(0.5100,1)" font-size="22.30" fill="#4d4d4d" color="#4d4d4d">0.4</text>
<rect x="189.70" y="1309.20" width="3.30" height="1.60" fill="#4d4d4d"/>
<line x1="253.85" y1="1293.90" x2="253.85" y2="1296.90" stroke="#4d4d4d" stroke-width="1.0" stroke-linecap="butt"/>
<text transform="translate(248.10,1315.70) scale(0.5100,1)" font-size="22.30" fill="#4d4d4d" color="#4d4d4d">0.2</text>
<rect x="244.85" y="1309.20" width="3.30" height="1.60" fill="#4d4d4d"/>
<line x1="309.00" y1="1293.90" x2="309.00" y2="1296.90" stroke="#4d4d4d" stroke-width="1.0" stroke-linecap="butt"/>
<text transform="translate(301.08,1315.70) scale(0.5100,1)" font-size="22.30" fill="#4d4d4d" color="#4d4d4d">0.0</text>
<line x1="364.15" y1="1293.90" x2="364.15" y2="1296.90" stroke="#4d4d4d" stroke-width="1.0" stroke-linecap="butt"/>
<text transform="translate(356.30,1315.70) scale(0.5100,1)" font-size="22.30" fill="#4d4d4d" color="#4d4d4d">0.2</text>
<line x1="419.30" y1="1293.90" x2="419.30" y2="1296.90" stroke="#4d4d4d" stroke-width="1.0" stroke-linecap="butt"/>
<text transform="translate(411.32,1315.70) scale(0.5100,1)" font-size="22.30" fill="#4d4d4d" color="#4d4d4d">0.4</text>
<line x1="474.45" y1="1293.90" x2="474.45" y2="1296.90" stroke="#4d4d4d" stroke-width="1.0" stroke-linecap="butt"/>
<text transform="translate(466.56,1315.70) scale(0.5100,1)" font-size="22.30" fill="#4d4d4d" color="#4d4d4d">0.6</text>
<line x1="529.60" y1="1293.90" x2="529.60" y2="1296.90" stroke="#4d4d4d" stroke-width="1.0" stroke-linecap="butt"/>
<text transform="translate(521.71,1315.70) scale(0.5100,1)" font-size="22.30" fill="#4d4d4d" color="#4d4d4d">0.8</text>
<text transform="translate(217.59,1337.50) scale(0.5207,1)" font-size="19.70" fill="#1a1a1a" color="#1a1a1a">Geneset correlation with disease activity</text>
<text transform="translate(46.00,1078.98) rotate(-90) scale(1.3313,1)" font-size="14.40" fill="#1a1a1a" color="#1a1a1a">Number of gene sets</text>
<text transform="translate(561.25,908.70) scale(0.5650,1)" font-size="16.00" fill="#1a1a1a" color="#1a1a1a">Pathway</text>
<ellipse cx="567.60" cy="929.00" rx="3.4" ry="6.0" fill="#F8766D"/>
<text transform="translate(577.55,935.10) scale(0.5718,1)" font-size="15.70" fill="#1a1a1a" color="#1a1a1a">Co_stimulatory</text>
<ellipse cx="567.60" cy="949.75" rx="3.4" ry="6.0" fill="#CD9600"/>
<text transform="translate(577.26,955.85) scale(0.5718,1)" font-size="15.70" fill="#1a1a1a" color="#1a1a1a">Epithelial_barrier</text>
<ellipse cx="567.60" cy="970.50" rx="3.4" ry="6.0" fill="#7CAE00"/>
<text transform="translate(577.26,976.60) scale(0.5718,1)" font-size="15.70" fill="#1a1a1a" color="#1a1a1a">FIBROSIS</text>
<ellipse cx="567.60" cy="991.25" rx="3.4" ry="6.0" fill="#00BE67"/>
<text transform="translate(577.17,997.35) scale(0.5718,1)" font-size="15.70" fill="#1a1a1a" color="#1a1a1a">Intestinal_inflammation</text>
<ellipse cx="567.60" cy="1012.00" rx="3.4" ry="6.0" fill="#00BFC4"/>
<text transform="translate(577.39,1018.10) scale(0.5718,1)" font-size="15.70" fill="#1a1a1a" color="#1a1a1a">meta_UC_transcriptome</text>
<ellipse cx="567.60" cy="1032.75" rx="3.4" ry="6.0" fill="#00A9FF"/>
<text id="t5" transform="translate(577.80,1038.85) scale(0.5718,1)" font-size="15.70" fill="#1a1a1a" color="#1a1a1a">TH </text>
<path transform="translate(577.80,1038.85) scale(0.5718,1) translate(20.890,0.000) scale(0.007666,-0.007666)" d="M763 0L583 0L583 1147C540 1106 483 1065 413 1024C343 983 280 952 224 931L224 1105C325 1152 413 1210 488 1276C563 1342 616 1380 647 1409L763 1409Z" fill="#1a1a1a" stroke="#1a1a1a" stroke-width="0.25" vector-effect="non-scaling-stroke"/>
<ellipse cx="567.60" cy="1053.50" rx="3.4" ry="6.0" fill="#C77CFF"/>
<text id="t6" transform="translate(577.80,1059.60) scale(0.5718,1)" font-size="15.70" fill="#1a1a1a" color="#1a1a1a">TH 7</text>
<path transform="translate(577.80,1059.60) scale(0.5718,1) translate(20.890,0.000) scale(0.007666,-0.007666)" d="M763 0L583 0L583 1147C540 1106 483 1065 413 1024C343 983 280 952 224 931L224 1105C325 1152 413 1210 488 1276C563 1342 616 1380 647 1409L763 1409Z" fill="#1a1a1a" stroke="#1a1a1a" stroke-width="0.25" vector-effect="non-scaling-stroke"/>
<ellipse cx="567.60" cy="1074.25" rx="3.4" ry="6.0" fill="#FF61CC"/>
<text transform="translate(577.80,1080.35) scale(0.5718,1)" font-size="15.70" fill="#1a1a1a" color="#1a1a1a">TH2</text>
</svg>
</body></html>
